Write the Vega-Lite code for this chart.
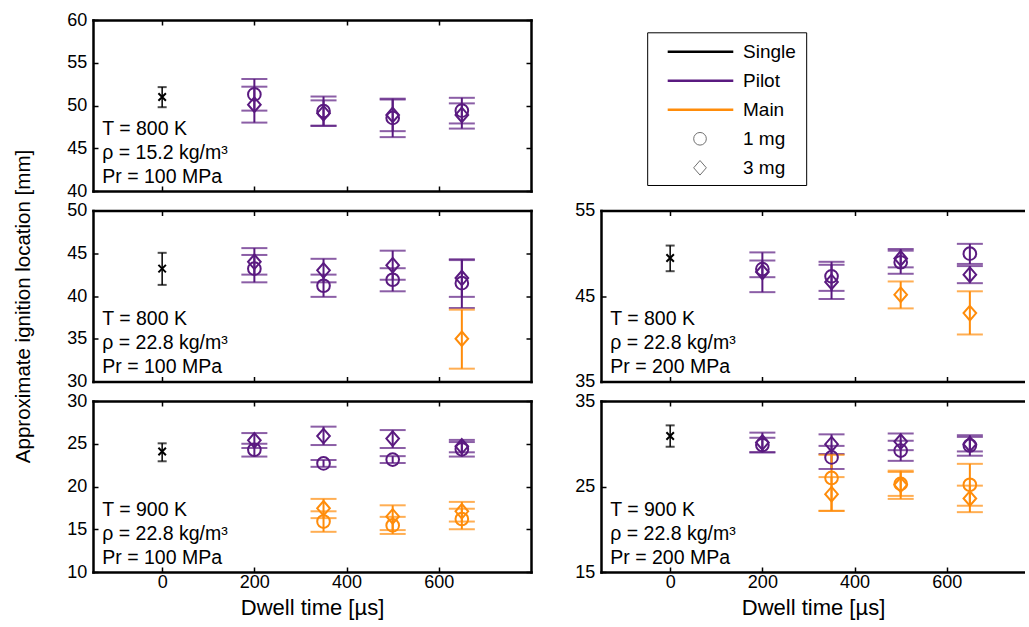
{
  "$schema": "https://vega.github.io/schema/vega-lite/v6.json",
  "background": "white",
  "padding": {"left": 13, "top": 11, "right": 0, "bottom": 2},
  "config": {
    "font": "Liberation Sans",
    "view": {"stroke": null},
    "axis": {"domain": true, "domainColor": "black", "domainWidth": 2.5, "domainCap": "square", "grid": false, "ticks": true, "tickSize": -5, "tickColor": "black", "tickWidth": 1.5, "labelFont": "Liberation Sans", "labelFontSize": 18, "labelColor": "black", "titleFont": "Liberation Sans", "titleColor": "black", "titleFontWeight": "normal"},
    "axisX": {"labelPadding": 6.6},
    "axisY": {"labelPadding": 11.3}
  },
  "datasets": {
    "pts": [
      {"panel":"A","t":0,"series":"Single","mass":"x","y":51.0,"lo":49.8,"hi":52.15},
      {"panel":"A","t":200,"series":"Pilot","mass":"1 mg","y":51.3,"lo":49.4,"hi":53.1},
      {"panel":"A","t":200,"series":"Pilot","mass":"3 mg","y":50.1,"lo":48.0,"hi":52.2},
      {"panel":"A","t":350,"series":"Pilot","mass":"1 mg","y":49.35,"lo":47.65,"hi":51.05},
      {"panel":"A","t":350,"series":"Pilot","mass":"3 mg","y":49.1,"lo":47.6,"hi":50.6},
      {"panel":"A","t":500,"series":"Pilot","mass":"1 mg","y":48.55,"lo":46.3,"hi":50.8},
      {"panel":"A","t":500,"series":"Pilot","mass":"3 mg","y":48.9,"lo":47.0,"hi":50.7},
      {"panel":"A","t":650,"series":"Pilot","mass":"1 mg","y":49.4,"lo":47.9,"hi":50.9},
      {"panel":"A","t":650,"series":"Pilot","mass":"3 mg","y":48.9,"lo":47.3,"hi":50.25},

      {"panel":"B","t":0,"series":"Single","mass":"x","y":43.2,"lo":41.3,"hi":45.05},
      {"panel":"B","t":200,"series":"Pilot","mass":"1 mg","y":43.2,"lo":41.6,"hi":44.8},
      {"panel":"B","t":200,"series":"Pilot","mass":"3 mg","y":44.0,"lo":42.5,"hi":45.6},
      {"panel":"B","t":350,"series":"Pilot","mass":"1 mg","y":41.2,"lo":39.9,"hi":42.5},
      {"panel":"B","t":350,"series":"Pilot","mass":"3 mg","y":43.0,"lo":41.6,"hi":44.35},
      {"panel":"B","t":500,"series":"Pilot","mass":"1 mg","y":41.9,"lo":40.55,"hi":43.25},
      {"panel":"B","t":500,"series":"Pilot","mass":"3 mg","y":43.6,"lo":41.9,"hi":45.3},
      {"panel":"B","t":650,"series":"Pilot","mass":"1 mg","y":41.5,"lo":38.6,"hi":44.3},
      {"panel":"B","t":650,"series":"Pilot","mass":"3 mg","y":42.1,"lo":39.9,"hi":44.2},
      {"panel":"B","t":650,"series":"Main","mass":"3 mg","y":35.0,"lo":31.5,"hi":38.4},

      {"panel":"C","t":0,"series":"Single","mass":"x","y":24.1,"lo":22.95,"hi":25.05},
      {"panel":"C","t":200,"series":"Pilot","mass":"1 mg","y":24.3,"lo":23.5,"hi":25.0},
      {"panel":"C","t":200,"series":"Pilot","mass":"3 mg","y":25.4,"lo":24.5,"hi":26.25},
      {"panel":"C","t":350,"series":"Pilot","mass":"1 mg","y":22.7,"lo":22.3,"hi":23.1},
      {"panel":"C","t":350,"series":"Pilot","mass":"3 mg","y":25.9,"lo":24.85,"hi":27.0},
      {"panel":"C","t":500,"series":"Pilot","mass":"1 mg","y":23.15,"lo":22.75,"hi":23.55},
      {"panel":"C","t":500,"series":"Pilot","mass":"3 mg","y":25.6,"lo":24.5,"hi":26.6},
      {"panel":"C","t":650,"series":"Pilot","mass":"1 mg","y":24.35,"lo":23.5,"hi":25.2},
      {"panel":"C","t":650,"series":"Pilot","mass":"3 mg","y":24.7,"lo":24.0,"hi":25.45},
      {"panel":"C","t":350,"series":"Main","mass":"1 mg","y":15.9,"lo":14.7,"hi":17.1},
      {"panel":"C","t":350,"series":"Main","mass":"3 mg","y":17.45,"lo":16.3,"hi":18.55},
      {"panel":"C","t":500,"series":"Main","mass":"1 mg","y":15.45,"lo":14.45,"hi":16.45},
      {"panel":"C","t":500,"series":"Main","mass":"3 mg","y":16.5,"lo":14.9,"hi":17.8},
      {"panel":"C","t":650,"series":"Main","mass":"1 mg","y":16.2,"lo":15.0,"hi":17.4},
      {"panel":"C","t":650,"series":"Main","mass":"3 mg","y":17.1,"lo":15.9,"hi":18.2},

      {"panel":"D","t":0,"series":"Single","mass":"x","y":49.45,"lo":47.9,"hi":50.9},
      {"panel":"D","t":200,"series":"Pilot","mass":"1 mg","y":48.15,"lo":47.2,"hi":49.15},
      {"panel":"D","t":200,"series":"Pilot","mass":"3 mg","y":47.8,"lo":45.45,"hi":50.1},
      {"panel":"D","t":350,"series":"Pilot","mass":"1 mg","y":47.3,"lo":45.6,"hi":49.0},
      {"panel":"D","t":350,"series":"Pilot","mass":"3 mg","y":46.65,"lo":44.65,"hi":48.65},
      {"panel":"D","t":500,"series":"Pilot","mass":"1 mg","y":48.95,"lo":47.6,"hi":50.3},
      {"panel":"D","t":500,"series":"Pilot","mass":"3 mg","y":49.4,"lo":48.35,"hi":50.5},
      {"panel":"D","t":650,"series":"Pilot","mass":"1 mg","y":49.95,"lo":48.75,"hi":51.1},
      {"panel":"D","t":650,"series":"Pilot","mass":"3 mg","y":47.5,"lo":46.5,"hi":48.5},
      {"panel":"D","t":500,"series":"Main","mass":"3 mg","y":45.15,"lo":43.55,"hi":46.7},
      {"panel":"D","t":650,"series":"Main","mass":"3 mg","y":43.0,"lo":40.5,"hi":45.55},

      {"panel":"E","t":0,"series":"Single","mass":"x","y":30.9,"lo":29.65,"hi":32.15},
      {"panel":"E","t":200,"series":"Pilot","mass":"1 mg","y":29.85,"lo":29.0,"hi":30.7},
      {"panel":"E","t":200,"series":"Pilot","mass":"3 mg","y":30.15,"lo":29.0,"hi":31.3},
      {"panel":"E","t":350,"series":"Pilot","mass":"1 mg","y":28.4,"lo":27.05,"hi":29.75},
      {"panel":"E","t":350,"series":"Pilot","mass":"3 mg","y":29.95,"lo":28.8,"hi":31.1},
      {"panel":"E","t":500,"series":"Pilot","mass":"1 mg","y":29.2,"lo":28.0,"hi":30.35},
      {"panel":"E","t":500,"series":"Pilot","mass":"3 mg","y":30.25,"lo":29.25,"hi":31.2},
      {"panel":"E","t":650,"series":"Pilot","mass":"1 mg","y":29.8,"lo":28.6,"hi":31.0},
      {"panel":"E","t":650,"series":"Pilot","mass":"3 mg","y":29.95,"lo":29.1,"hi":30.8},
      {"panel":"E","t":350,"series":"Main","mass":"1 mg","y":26.0,"lo":22.15,"hi":28.7},
      {"panel":"E","t":350,"series":"Main","mass":"3 mg","y":24.1,"lo":22.15,"hi":26.1},
      {"panel":"E","t":500,"series":"Main","mass":"1 mg","y":25.3,"lo":23.9,"hi":26.7},
      {"panel":"E","t":500,"series":"Main","mass":"3 mg","y":25.2,"lo":23.55,"hi":26.85},
      {"panel":"E","t":650,"series":"Main","mass":"1 mg","y":25.2,"lo":22.75,"hi":27.65},
      {"panel":"E","t":650,"series":"Main","mass":"3 mg","y":23.6,"lo":22.0,"hi":25.1}
    ],
    "notes": [
      {"panel":"A","lines":["T = 800 K","ρ = 15.2 kg/m³","Pr = 100 MPa"]},
      {"panel":"B","lines":["T = 800 K","ρ = 22.8 kg/m³","Pr = 100 MPa"]},
      {"panel":"C","lines":["T = 900 K","ρ = 22.8 kg/m³","Pr = 100 MPa"]},
      {"panel":"D","lines":["T = 800 K","ρ = 22.8 kg/m³","Pr = 200 MPa"]},
      {"panel":"E","lines":["T = 900 K","ρ = 22.8 kg/m³","Pr = 200 MPa"]}
    ],
    "leg": [
      {"label":"Single","kind":"line","series":"Single"},
      {"label":"Pilot","kind":"line","series":"Pilot"},
      {"label":"Main","kind":"line","series":"Main"},
      {"label":"1 mg","kind":"sym","mass":"1 mg"},
      {"label":"3 mg","kind":"sym","mass":"3 mg"}
    ]
  },
  "columns": 2,
  "bounds": "flush",
  "spacing": {"row": 19.5, "column": 70},
  "concat": [
    {
      "width": 438, "height": 171,
      "data": {"name": "pts"},
      "transform": [{"filter": "datum.panel === 'A'"}],
      "layer": [
        {"mark": {"type": "rule"},
         "encoding": {
           "x": {"field": "t", "type": "quantitative", "scale": {"domain": [-150, 800], "nice": false, "zero": false}, "axis": {"orient": "bottom", "values": [0,200,400,600], "labels": false, "title": null}},
           "y": {"field": "lo", "type": "quantitative", "scale": {"domain": [40, 60], "nice": false, "zero": false}, "axis": {"orient": "left", "values": [40,45,50,55,60], "title": null}},
           "y2": {"field": "hi"},
           "strokeWidth": {"condition": {"test": "datum.series === 'Single'", "value": 1.5}, "value": 2},
           "color": {"field": "series", "type": "nominal", "scale": {"domain": ["Single","Pilot","Main"], "range": ["#000000","#5a1a80","#ff8c0a"]}, "legend": null}
         }},
        {"mark": {"type": "tick", "orient": "horizontal", "thickness": 2},
         "encoding": {
           "x": {"field": "t", "type": "quantitative", "axis": {"orient": "top", "values": [0,200,400,600], "labels": false, "title": null}},
           "y": {"field": "lo", "type": "quantitative", "axis": {"orient": "right", "values": [40,45,50,55,60], "labels": false, "title": null}},
           "size": {"condition": {"test": "datum.series === 'Single'", "value": 9}, "value": 26},
           "color": {"field": "series", "type": "nominal", "legend": null}
         }},
        {"mark": {"type": "tick", "orient": "horizontal", "thickness": 2},
         "encoding": {
           "x": {"field": "t", "type": "quantitative", "axis": null},
           "y": {"field": "hi", "type": "quantitative", "axis": null},
           "size": {"condition": {"test": "datum.series === 'Single'", "value": 9}, "value": 26},
           "color": {"field": "series", "type": "nominal", "legend": null}
         }},
        {"mark": {"type": "point", "filled": false, "opacity": 1, "strokeWidth": 2},
         "encoding": {
           "x": {"field": "t", "type": "quantitative", "axis": null},
           "y": {"field": "y", "type": "quantitative", "axis": null},
           "shape": {"field": "mass", "type": "nominal", "scale": {"domain": ["1 mg","3 mg","x"], "range": ["circle","M0,-1.15L1,0L0,1.15L-1,0Z","M-1,-1L1,1M-1,1L1,-1"]}, "legend": null},
           "size": {"condition": {"test": "datum.series === 'Single'", "value": 56}, "value": 160},
           "color": {"field": "series", "type": "nominal", "legend": null}
         }},
        {"data": {"name": "notes"},
         "transform": [{"filter": "datum.panel === 'A'"}],
         "mark": {"type": "text", "align": "left", "baseline": "alphabetic", "fontSize": 19.5, "lineHeight": 24, "color": "black"},
         "encoding": {
           "x": {"datum": -130, "type": "quantitative", "axis": null},
           "y": {"datum": 46.55, "type": "quantitative", "axis": null},
           "text": {"field": "lines"}
         }}
      ],
      "resolve": {"axis": {"x": "independent", "y": "independent"}}
    },
    {
      "width": 424, "height": 171,
      "layer": [
        {"data": {"values": [{}]},
         "mark": {"type": "rect", "fill": "transparent", "stroke": "black", "strokeWidth": 1},
         "encoding": {
           "x": {"datum": 11.01, "type": "quantitative", "scale": {"domain": [0, 100], "nice": false, "zero": false}, "axis": null},
           "x2": {"datum": 48.51},
           "y": {"datum": 92.51, "type": "quantitative", "scale": {"domain": [0, 100], "nice": false, "zero": false}, "axis": null},
           "y2": {"datum": 3.22}
         }},
        {"data": {"name": "leg"},
         "layer": [
           {"transform": [{"filter": "datum.kind === 'line'"}],
            "mark": {"type": "rule", "strokeWidth": 2.5},
            "encoding": {
              "x": {"datum": 15.73, "type": "quantitative", "axis": null},
              "x2": {"datum": 31.2},
              "y": {"field": "label", "type": "nominal", "scale": {"type": "point", "domain": ["Single","Pilot","Main","1 mg","3 mg"], "padding": 0.948, "align": 0.578}, "axis": null},
              "color": {"field": "series", "type": "nominal", "scale": {"domain": ["Single","Pilot","Main"], "range": ["#000000","#5a1a80","#ff8c0a"]}, "legend": null}
            }},
           {"transform": [{"filter": "datum.kind === 'sym'"}],
            "mark": {"type": "point", "filled": false, "opacity": 1, "strokeWidth": 1, "color": "#707070", "size": 160},
            "encoding": {
              "x": {"datum": 23.35, "type": "quantitative", "axis": null},
              "y": {"field": "label", "type": "nominal", "axis": null},
              "shape": {"field": "mass", "type": "nominal", "scale": {"domain": ["1 mg","3 mg"], "range": ["circle","M0,-1.15L1,0L0,1.15L-1,0Z"]}, "legend": null}
            }},
           {"mark": {"type": "text", "align": "left", "baseline": "middle", "fontSize": 19, "color": "black"},
            "encoding": {
              "x": {"datum": 33.49, "type": "quantitative", "axis": null},
              "y": {"field": "label", "type": "nominal", "axis": null},
              "text": {"field": "label"}
            }}
         ]
        }
      ],
      "resolve": {"scale": {"y": "independent"}}
    },
    {
      "width": 438, "height": 171,
      "data": {"name": "pts"},
      "transform": [{"filter": "datum.panel === 'B'"}],
      "layer": [
        {"mark": {"type": "rule"},
         "encoding": {
           "x": {"field": "t", "type": "quantitative", "scale": {"domain": [-150, 800], "nice": false, "zero": false}, "axis": {"orient": "bottom", "values": [0,200,400,600], "labels": false, "title": null}},
           "y": {"field": "lo", "type": "quantitative", "scale": {"domain": [30, 50], "nice": false, "zero": false}, "axis": {"orient": "left", "values": [30,35,40,45,50], "title": "Approximate ignition location [mm]", "titleFontSize": 20.5, "titleX": -63.3, "titleY": 95.5, "titleBaseline": "alphabetic"}},
           "y2": {"field": "hi"},
           "strokeWidth": {"condition": {"test": "datum.series === 'Single'", "value": 1.5}, "value": 2},
           "color": {"field": "series", "type": "nominal", "scale": {"domain": ["Single","Pilot","Main"], "range": ["#000000","#5a1a80","#ff8c0a"]}, "legend": null}
         }},
        {"mark": {"type": "tick", "orient": "horizontal", "thickness": 2},
         "encoding": {
           "x": {"field": "t", "type": "quantitative", "axis": {"orient": "top", "values": [0,200,400,600], "labels": false, "title": null}},
           "y": {"field": "lo", "type": "quantitative", "axis": {"orient": "right", "values": [30,35,40,45,50], "labels": false, "title": null}},
           "size": {"condition": {"test": "datum.series === 'Single'", "value": 9}, "value": 26},
           "color": {"field": "series", "type": "nominal", "legend": null}
         }},
        {"mark": {"type": "tick", "orient": "horizontal", "thickness": 2},
         "encoding": {
           "x": {"field": "t", "type": "quantitative", "axis": null},
           "y": {"field": "hi", "type": "quantitative", "axis": null},
           "size": {"condition": {"test": "datum.series === 'Single'", "value": 9}, "value": 26},
           "color": {"field": "series", "type": "nominal", "legend": null}
         }},
        {"mark": {"type": "point", "filled": false, "opacity": 1, "strokeWidth": 2},
         "encoding": {
           "x": {"field": "t", "type": "quantitative", "axis": null},
           "y": {"field": "y", "type": "quantitative", "axis": null},
           "shape": {"field": "mass", "type": "nominal", "scale": {"domain": ["1 mg","3 mg","x"], "range": ["circle","M0,-1.15L1,0L0,1.15L-1,0Z","M-1,-1L1,1M-1,1L1,-1"]}, "legend": null},
           "size": {"condition": {"test": "datum.series === 'Single'", "value": 56}, "value": 160},
           "color": {"field": "series", "type": "nominal", "legend": null}
         }},
        {"data": {"name": "notes"},
         "transform": [{"filter": "datum.panel === 'B'"}],
         "mark": {"type": "text", "align": "left", "baseline": "alphabetic", "fontSize": 19.5, "lineHeight": 24, "color": "black"},
         "encoding": {
           "x": {"datum": -130, "type": "quantitative", "axis": null},
           "y": {"datum": 36.55, "type": "quantitative", "axis": null},
           "text": {"field": "lines"}
         }}
      ],
      "resolve": {"axis": {"x": "independent", "y": "independent"}}
    },
    {
      "width": 424, "height": 171,
      "data": {"name": "pts"},
      "transform": [{"filter": "datum.panel === 'D'"}],
      "layer": [
        {"mark": {"type": "rule"},
         "encoding": {
           "x": {"field": "t", "type": "quantitative", "scale": {"domain": [-150, 769.6], "nice": false, "zero": false}, "axis": {"orient": "bottom", "values": [0,200,400,600], "labels": false, "title": null}},
           "y": {"field": "lo", "type": "quantitative", "scale": {"domain": [35, 55], "nice": false, "zero": false}, "axis": {"orient": "left", "values": [35,45,55], "title": null}},
           "y2": {"field": "hi"},
           "strokeWidth": {"condition": {"test": "datum.series === 'Single'", "value": 1.5}, "value": 2},
           "color": {"field": "series", "type": "nominal", "scale": {"domain": ["Single","Pilot","Main"], "range": ["#000000","#5a1a80","#ff8c0a"]}, "legend": null}
         }},
        {"mark": {"type": "tick", "orient": "horizontal", "thickness": 2},
         "encoding": {
           "x": {"field": "t", "type": "quantitative", "axis": {"orient": "top", "values": [0,200,400,600], "labels": false, "title": null}},
           "y": {"field": "lo", "type": "quantitative", "axis": null},
           "size": {"condition": {"test": "datum.series === 'Single'", "value": 9}, "value": 26},
           "color": {"field": "series", "type": "nominal", "legend": null}
         }},
        {"mark": {"type": "tick", "orient": "horizontal", "thickness": 2},
         "encoding": {
           "x": {"field": "t", "type": "quantitative", "axis": null},
           "y": {"field": "hi", "type": "quantitative", "axis": null},
           "size": {"condition": {"test": "datum.series === 'Single'", "value": 9}, "value": 26},
           "color": {"field": "series", "type": "nominal", "legend": null}
         }},
        {"mark": {"type": "point", "filled": false, "opacity": 1, "strokeWidth": 2},
         "encoding": {
           "x": {"field": "t", "type": "quantitative", "axis": null},
           "y": {"field": "y", "type": "quantitative", "axis": null},
           "shape": {"field": "mass", "type": "nominal", "scale": {"domain": ["1 mg","3 mg","x"], "range": ["circle","M0,-1.15L1,0L0,1.15L-1,0Z","M-1,-1L1,1M-1,1L1,-1"]}, "legend": null},
           "size": {"condition": {"test": "datum.series === 'Single'", "value": 56}, "value": 160},
           "color": {"field": "series", "type": "nominal", "legend": null}
         }},
        {"data": {"name": "notes"},
         "transform": [{"filter": "datum.panel === 'D'"}],
         "mark": {"type": "text", "align": "left", "baseline": "alphabetic", "fontSize": 19.5, "lineHeight": 24, "color": "black"},
         "encoding": {
           "x": {"datum": -130, "type": "quantitative", "axis": null},
           "y": {"datum": 41.55, "type": "quantitative", "axis": null},
           "text": {"field": "lines"}
         }}
      ],
      "resolve": {"axis": {"x": "independent", "y": "independent"}}
    },
    {
      "width": 438, "height": 171,
      "data": {"name": "pts"},
      "transform": [{"filter": "datum.panel === 'C'"}],
      "layer": [
        {"mark": {"type": "rule"},
         "encoding": {
           "x": {"field": "t", "type": "quantitative", "scale": {"domain": [-150, 800], "nice": false, "zero": false}, "axis": {"orient": "bottom", "values": [0,200,400,600], "title": "Dwell time [µs]", "titleFontSize": 22, "titleY": 42, "titleBaseline": "alphabetic"}},
           "y": {"field": "lo", "type": "quantitative", "scale": {"domain": [10, 30], "nice": false, "zero": false}, "axis": {"orient": "left", "values": [10,15,20,25,30], "title": null}},
           "y2": {"field": "hi"},
           "strokeWidth": {"condition": {"test": "datum.series === 'Single'", "value": 1.5}, "value": 2},
           "color": {"field": "series", "type": "nominal", "scale": {"domain": ["Single","Pilot","Main"], "range": ["#000000","#5a1a80","#ff8c0a"]}, "legend": null}
         }},
        {"mark": {"type": "tick", "orient": "horizontal", "thickness": 2},
         "encoding": {
           "x": {"field": "t", "type": "quantitative", "axis": {"orient": "top", "values": [0,200,400,600], "labels": false, "title": null}},
           "y": {"field": "lo", "type": "quantitative", "axis": {"orient": "right", "values": [10,15,20,25,30], "labels": false, "title": null}},
           "size": {"condition": {"test": "datum.series === 'Single'", "value": 9}, "value": 26},
           "color": {"field": "series", "type": "nominal", "legend": null}
         }},
        {"mark": {"type": "tick", "orient": "horizontal", "thickness": 2},
         "encoding": {
           "x": {"field": "t", "type": "quantitative", "axis": null},
           "y": {"field": "hi", "type": "quantitative", "axis": null},
           "size": {"condition": {"test": "datum.series === 'Single'", "value": 9}, "value": 26},
           "color": {"field": "series", "type": "nominal", "legend": null}
         }},
        {"mark": {"type": "point", "filled": false, "opacity": 1, "strokeWidth": 2},
         "encoding": {
           "x": {"field": "t", "type": "quantitative", "axis": null},
           "y": {"field": "y", "type": "quantitative", "axis": null},
           "shape": {"field": "mass", "type": "nominal", "scale": {"domain": ["1 mg","3 mg","x"], "range": ["circle","M0,-1.15L1,0L0,1.15L-1,0Z","M-1,-1L1,1M-1,1L1,-1"]}, "legend": null},
           "size": {"condition": {"test": "datum.series === 'Single'", "value": 56}, "value": 160},
           "color": {"field": "series", "type": "nominal", "legend": null}
         }},
        {"data": {"name": "notes"},
         "transform": [{"filter": "datum.panel === 'C'"}],
         "mark": {"type": "text", "align": "left", "baseline": "alphabetic", "fontSize": 19.5, "lineHeight": 24, "color": "black"},
         "encoding": {
           "x": {"datum": -130, "type": "quantitative", "axis": null},
           "y": {"datum": 16.55, "type": "quantitative", "axis": null},
           "text": {"field": "lines"}
         }}
      ],
      "resolve": {"axis": {"x": "independent", "y": "independent"}}
    },
    {
      "width": 424, "height": 171,
      "data": {"name": "pts"},
      "transform": [{"filter": "datum.panel === 'E'"}],
      "layer": [
        {"mark": {"type": "rule"},
         "encoding": {
           "x": {"field": "t", "type": "quantitative", "scale": {"domain": [-150, 769.6], "nice": false, "zero": false}, "axis": {"orient": "bottom", "values": [0,200,400,600], "title": "Dwell time [µs]", "titleFontSize": 22, "titleY": 42, "titleBaseline": "alphabetic"}},
           "y": {"field": "lo", "type": "quantitative", "scale": {"domain": [15, 35], "nice": false, "zero": false}, "axis": {"orient": "left", "values": [15,25,35], "title": null}},
           "y2": {"field": "hi"},
           "strokeWidth": {"condition": {"test": "datum.series === 'Single'", "value": 1.5}, "value": 2},
           "color": {"field": "series", "type": "nominal", "scale": {"domain": ["Single","Pilot","Main"], "range": ["#000000","#5a1a80","#ff8c0a"]}, "legend": null}
         }},
        {"mark": {"type": "tick", "orient": "horizontal", "thickness": 2},
         "encoding": {
           "x": {"field": "t", "type": "quantitative", "axis": {"orient": "top", "values": [0,200,400,600], "labels": false, "title": null}},
           "y": {"field": "lo", "type": "quantitative", "axis": null},
           "size": {"condition": {"test": "datum.series === 'Single'", "value": 9}, "value": 26},
           "color": {"field": "series", "type": "nominal", "legend": null}
         }},
        {"mark": {"type": "tick", "orient": "horizontal", "thickness": 2},
         "encoding": {
           "x": {"field": "t", "type": "quantitative", "axis": null},
           "y": {"field": "hi", "type": "quantitative", "axis": null},
           "size": {"condition": {"test": "datum.series === 'Single'", "value": 9}, "value": 26},
           "color": {"field": "series", "type": "nominal", "legend": null}
         }},
        {"mark": {"type": "point", "filled": false, "opacity": 1, "strokeWidth": 2},
         "encoding": {
           "x": {"field": "t", "type": "quantitative", "axis": null},
           "y": {"field": "y", "type": "quantitative", "axis": null},
           "shape": {"field": "mass", "type": "nominal", "scale": {"domain": ["1 mg","3 mg","x"], "range": ["circle","M0,-1.15L1,0L0,1.15L-1,0Z","M-1,-1L1,1M-1,1L1,-1"]}, "legend": null},
           "size": {"condition": {"test": "datum.series === 'Single'", "value": 56}, "value": 160},
           "color": {"field": "series", "type": "nominal", "legend": null}
         }},
        {"data": {"name": "notes"},
         "transform": [{"filter": "datum.panel === 'E'"}],
         "mark": {"type": "text", "align": "left", "baseline": "alphabetic", "fontSize": 19.5, "lineHeight": 24, "color": "black"},
         "encoding": {
           "x": {"datum": -130, "type": "quantitative", "axis": null},
           "y": {"datum": 21.55, "type": "quantitative", "axis": null},
           "text": {"field": "lines"}
         }}
      ],
      "resolve": {"axis": {"x": "independent", "y": "independent"}}
    }
  ]
}
